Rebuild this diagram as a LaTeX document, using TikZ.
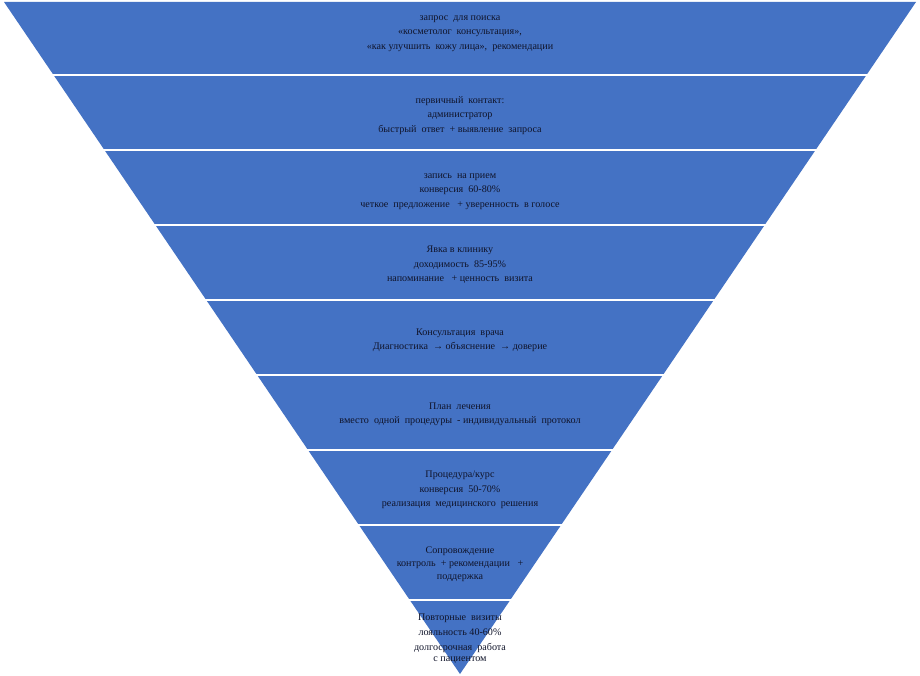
\documentclass[tikz,border=0pt]{standalone}
\usepackage{fontspec}
\setmainfont{Liberation Serif}
\definecolor{funnelblue}{HTML}{4472C4}
\definecolor{txtdark}{HTML}{10142A}
\begin{document}
\begin{tikzpicture}[x=1pt,y=-1pt,
  lbl/.style={align=center,text=txtdark,inner sep=0pt,font=\fontsize{10.1}{14.5}\selectfont},
  gap/.style={draw=white,line width=2.5pt}]
\useasboundingbox[fill=white] (0,0) rectangle (920,676);
\coordinate (tl) at (4,2);
\coordinate (tr) at (916,2);
\coordinate (apex) at (460,674);
\fill[funnelblue] (tl) -- (tr) -- (apex) -- cycle;
\foreach \yy in {75,150,225,300,375,450,525,600}{
  \draw[gap] (0,\yy) -- (920,\yy);
}
\node[lbl] (s1) at (460,33.5) {запрос\ \ для поиска\\«косметолог\ \ консультация»,\\«как улучшить\ \ кожу лица»,\ \ рекомендации};
\node[lbl] (s2) at (460,115.5) {первичный\ \ контакт:\\администратор\\быстрый\ \ ответ\ \ + выявление\ \ запроса};
\node[lbl] (s3) at (460,191.5) {запись\ \ на прием\\конверсия\ \ 60-80\%\\четкое\ \ предложение\ \ \ + уверенность\ \ в голосе};
\node[lbl] (s4) at (460,265) {Явка в клинику\\доходимость\ \ 85-95\%\\напоминание\ \ \ + ценность\ \ визита};
\node[lbl] (s5) at (460,340.5) {Консультация\ \ врача\\Диагностика\ \ → объяснение\ \ → доверие};
\node[lbl] (s6) at (460,414.5) {План\ \ лечения\\вместо\ \ одной\ \ процедуры\ \ - индивидуальный\ \ протокол};
\node[lbl] (s7) at (460,490) {Процедура/курс\\конверсия\ \ 50-70\%\\реализация\ \ медицинского\ \ решения};
\node[lbl,font=\fontsize{10.1}{13}\selectfont] (s8) at (460,564) {Сопровождение\\контроль\ \ + рекомендации\ \ \ +\\поддержка};
\node[lbl,font=\fontsize{10.1}{14.8}\selectfont] (s9) at (460,639) {Повторные\ \ визиты\\лояльность 40-60\%\\долгосрочная\ \ работа\\[-3.5pt]с пациентом};
\end{tikzpicture}
\end{document}
